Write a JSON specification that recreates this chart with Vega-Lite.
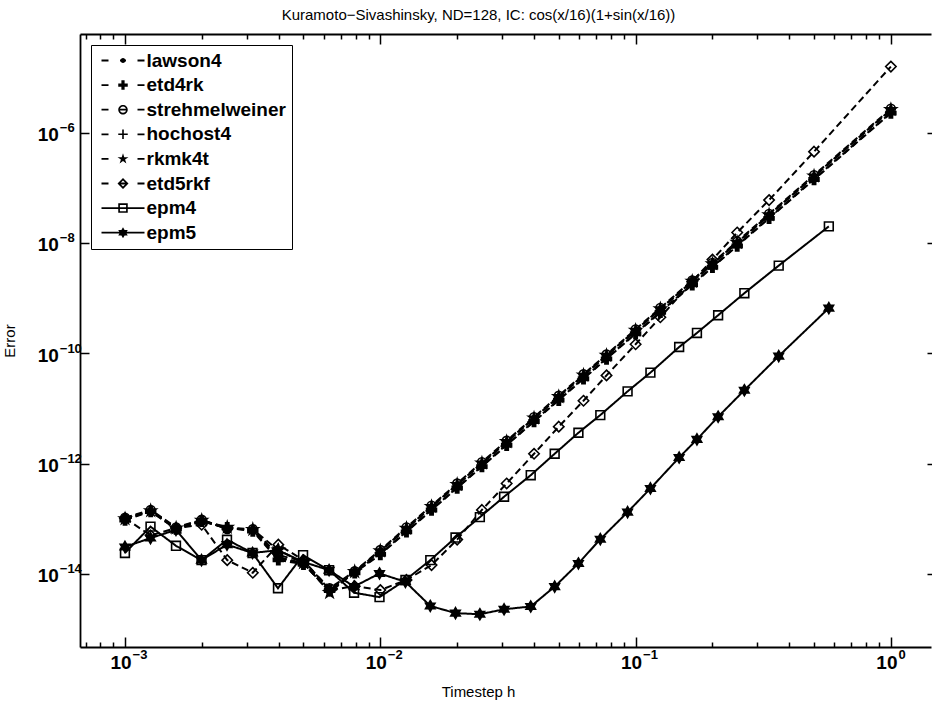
{
"$schema":"https://vega.github.io/schema/vega-lite/v6.json",
"width":851,"height":613,
"autosize":{"type":"none"},
"padding":{"left":80,"top":34,"right":1,"bottom":58},
"background":"white",
"title":{"text":"Kuramoto−Sivashinsky, ND=128, IC: cos(x/16)(1+sin(x/16))","font":"Liberation Sans","fontSize":15,"fontWeight":"normal","color":"black","anchor":"middle","dx":-27,"offset":10},
"config":{"view":{"stroke":null}},
"data":{"values":[
{"m":"lawson4","h":0.001,"e":1.02e-13},{"m":"lawson4","h":0.00126,"e":1.41e-13},{"m":"lawson4","h":0.001585,"e":6.76e-14},{"m":"lawson4","h":0.001996,"e":9.33e-14},{"m":"lawson4","h":0.002513,"e":6.76e-14},{"m":"lawson4","h":0.003165,"e":6.31e-14},{"m":"lawson4","h":0.003984,"e":2.0e-14},{"m":"lawson4","h":0.005,"e":1.585e-14},{"m":"lawson4","h":0.006329,"e":5.13e-15},{"m":"lawson4","h":0.007937,"e":1.1e-14},{"m":"lawson4","h":0.01,"e":2.57e-14},{"m":"lawson4","h":0.01266,"e":6.58e-14},{"m":"lawson4","h":0.01587,"e":1.637e-13},{"m":"lawson4","h":0.02,"e":4.11e-13},{"m":"lawson4","h":0.025,"e":1.005e-12},{"m":"lawson4","h":0.03125,"e":2.455e-12},{"m":"lawson4","h":0.04,"e":6.58e-12},{"m":"lawson4","h":0.05,"e":1.607e-11},{"m":"lawson4","h":0.0625,"e":3.93e-11},{"m":"lawson4","h":0.07692,"e":8.99e-11},{"m":"lawson4","h":0.1,"e":2.57e-10},{"m":"lawson4","h":0.125,"e":6.28e-10},{"m":"lawson4","h":0.1667,"e":1.986e-9},{"m":"lawson4","h":0.2,"e":4.11e-9},{"m":"lawson4","h":0.25,"e":1.005e-8},{"m":"lawson4","h":0.3333,"e":3.177e-8},{"m":"lawson4","h":0.5,"e":1.607e-7},{"m":"lawson4","h":1,"e":2.57e-6},
{"m":"etd4rk","h":0.001,"e":9.5e-14},{"m":"etd4rk","h":0.00126,"e":1.35e-13},{"m":"etd4rk","h":0.001585,"e":6.5e-14},{"m":"etd4rk","h":0.001996,"e":9.0e-14},{"m":"etd4rk","h":0.002513,"e":6.9e-14},{"m":"etd4rk","h":0.003165,"e":6.0e-14},{"m":"etd4rk","h":0.003984,"e":1.8e-14},{"m":"etd4rk","h":0.005,"e":1.5e-14},{"m":"etd4rk","h":0.006329,"e":5.0e-15},{"m":"etd4rk","h":0.007937,"e":1.05e-14},{"m":"etd4rk","h":0.01,"e":2.26e-14},{"m":"etd4rk","h":0.01266,"e":5.79e-14},{"m":"etd4rk","h":0.01587,"e":1.44e-13},{"m":"etd4rk","h":0.02,"e":3.62e-13},{"m":"etd4rk","h":0.025,"e":8.84e-13},{"m":"etd4rk","h":0.03125,"e":2.16e-12},{"m":"etd4rk","h":0.04,"e":5.79e-12},{"m":"etd4rk","h":0.05,"e":1.414e-11},{"m":"etd4rk","h":0.0625,"e":3.46e-11},{"m":"etd4rk","h":0.07692,"e":7.91e-11},{"m":"etd4rk","h":0.1,"e":2.26e-10},{"m":"etd4rk","h":0.125,"e":5.53e-10},{"m":"etd4rk","h":0.1667,"e":1.748e-9},{"m":"etd4rk","h":0.2,"e":3.62e-9},{"m":"etd4rk","h":0.25,"e":8.84e-9},{"m":"etd4rk","h":0.3333,"e":2.8e-8},{"m":"etd4rk","h":0.5,"e":1.414e-7},{"m":"etd4rk","h":1,"e":2.26e-6},
{"m":"strehmelweiner","h":0.001,"e":1.05e-13},{"m":"strehmelweiner","h":0.00126,"e":1.45e-13},{"m":"strehmelweiner","h":0.001585,"e":7.0e-14},{"m":"strehmelweiner","h":0.001996,"e":9.6e-14},{"m":"strehmelweiner","h":0.002513,"e":6.5e-14},{"m":"strehmelweiner","h":0.003165,"e":6.5e-14},{"m":"strehmelweiner","h":0.003984,"e":2.2e-14},{"m":"strehmelweiner","h":0.005,"e":1.7e-14},{"m":"strehmelweiner","h":0.006329,"e":5.5e-15},{"m":"strehmelweiner","h":0.007937,"e":1.12e-14},{"m":"strehmelweiner","h":0.01,"e":2.72e-14},{"m":"strehmelweiner","h":0.01266,"e":6.97e-14},{"m":"strehmelweiner","h":0.01587,"e":1.735e-13},{"m":"strehmelweiner","h":0.02,"e":4.36e-13},{"m":"strehmelweiner","h":0.025,"e":1.065e-12},{"m":"strehmelweiner","h":0.03125,"e":2.6e-12},{"m":"strehmelweiner","h":0.04,"e":6.97e-12},{"m":"strehmelweiner","h":0.05,"e":1.703e-11},{"m":"strehmelweiner","h":0.0625,"e":4.17e-11},{"m":"strehmelweiner","h":0.07692,"e":9.53e-11},{"m":"strehmelweiner","h":0.1,"e":2.72e-10},{"m":"strehmelweiner","h":0.125,"e":6.66e-10},{"m":"strehmelweiner","h":0.1667,"e":2.105e-9},{"m":"strehmelweiner","h":0.2,"e":4.36e-9},{"m":"strehmelweiner","h":0.25,"e":1.065e-8},{"m":"strehmelweiner","h":0.3333,"e":3.37e-8},{"m":"strehmelweiner","h":0.5,"e":1.703e-7},{"m":"strehmelweiner","h":1,"e":2.72e-6},
{"m":"hochost4","h":0.001,"e":9.8e-14},{"m":"hochost4","h":0.00126,"e":1.38e-13},{"m":"hochost4","h":0.001585,"e":6.6e-14},{"m":"hochost4","h":0.001996,"e":9.1e-14},{"m":"hochost4","h":0.002513,"e":6.7e-14},{"m":"hochost4","h":0.003165,"e":6.2e-14},{"m":"hochost4","h":0.003984,"e":1.9e-14},{"m":"hochost4","h":0.005,"e":1.55e-14},{"m":"hochost4","h":0.006329,"e":4.8e-15},{"m":"hochost4","h":0.007937,"e":1.08e-14},{"m":"hochost4","h":0.01,"e":2.31e-14},{"m":"hochost4","h":0.01266,"e":5.92e-14},{"m":"hochost4","h":0.01587,"e":1.47e-13},{"m":"hochost4","h":0.02,"e":3.7e-13},{"m":"hochost4","h":0.025,"e":9.05e-13},{"m":"hochost4","h":0.03125,"e":2.21e-12},{"m":"hochost4","h":0.04,"e":5.92e-12},{"m":"hochost4","h":0.05,"e":1.446e-11},{"m":"hochost4","h":0.0625,"e":3.54e-11},{"m":"hochost4","h":0.07692,"e":8.09e-11},{"m":"hochost4","h":0.1,"e":2.31e-10},{"m":"hochost4","h":0.125,"e":5.65e-10},{"m":"hochost4","h":0.1667,"e":1.787e-9},{"m":"hochost4","h":0.2,"e":3.7e-9},{"m":"hochost4","h":0.25,"e":9.05e-9},{"m":"hochost4","h":0.3333,"e":2.86e-8},{"m":"hochost4","h":0.5,"e":1.446e-7},{"m":"hochost4","h":1,"e":2.31e-6},
{"m":"rkmk4t","h":0.001,"e":1.0e-13},{"m":"rkmk4t","h":0.00126,"e":1.4e-13},{"m":"rkmk4t","h":0.001585,"e":6.8e-14},{"m":"rkmk4t","h":0.001996,"e":9.4e-14},{"m":"rkmk4t","h":0.002513,"e":7.0e-14},{"m":"rkmk4t","h":0.003165,"e":6.4e-14},{"m":"rkmk4t","h":0.003984,"e":2.7e-14},{"m":"rkmk4t","h":0.005,"e":1.6e-14},{"m":"rkmk4t","h":0.006329,"e":4.6e-15},{"m":"rkmk4t","h":0.007937,"e":1.1e-14},{"m":"rkmk4t","h":0.01,"e":2.62e-14},{"m":"rkmk4t","h":0.01266,"e":6.71e-14},{"m":"rkmk4t","h":0.01587,"e":1.67e-13},{"m":"rkmk4t","h":0.02,"e":4.19e-13},{"m":"rkmk4t","h":0.025,"e":1.025e-12},{"m":"rkmk4t","h":0.03125,"e":2.5e-12},{"m":"rkmk4t","h":0.04,"e":6.71e-12},{"m":"rkmk4t","h":0.05,"e":1.639e-11},{"m":"rkmk4t","h":0.0625,"e":4.01e-11},{"m":"rkmk4t","h":0.07692,"e":9.17e-11},{"m":"rkmk4t","h":0.1,"e":2.62e-10},{"m":"rkmk4t","h":0.125,"e":6.41e-10},{"m":"rkmk4t","h":0.1667,"e":2.026e-9},{"m":"rkmk4t","h":0.2,"e":4.19e-9},{"m":"rkmk4t","h":0.25,"e":1.025e-8},{"m":"rkmk4t","h":0.3333,"e":3.24e-8},{"m":"rkmk4t","h":0.5,"e":1.639e-7},{"m":"rkmk4t","h":1,"e":2.62e-6},
{"m":"etd5rkf","h":0.001,"e":1.02e-13},{"m":"etd5rkf","h":0.00126,"e":5.0e-14},{"m":"etd5rkf","h":0.001585,"e":6.8e-14},{"m":"etd5rkf","h":0.001996,"e":7.8e-14},{"m":"etd5rkf","h":0.002513,"e":1.78e-14},{"m":"etd5rkf","h":0.003165,"e":1.05e-14},{"m":"etd5rkf","h":0.003984,"e":3.4e-14},{"m":"etd5rkf","h":0.005,"e":1.78e-14},{"m":"etd5rkf","h":0.006329,"e":5.1e-15},{"m":"etd5rkf","h":0.007937,"e":6.0e-15},{"m":"etd5rkf","h":0.01,"e":5.1e-15},{"m":"etd5rkf","h":0.01266,"e":7.8e-15},{"m":"etd5rkf","h":0.01587,"e":1.45e-14},{"m":"etd5rkf","h":0.02,"e":4.2e-14},{"m":"etd5rkf","h":0.025,"e":1.45e-13},{"m":"etd5rkf","h":0.03125,"e":4.37e-13},{"m":"etd5rkf","h":0.04,"e":1.51e-12},{"m":"etd5rkf","h":0.05,"e":4.68e-12},{"m":"etd5rkf","h":0.0625,"e":1.38e-11},{"m":"etd5rkf","h":0.07692,"e":3.98e-11},{"m":"etd5rkf","h":0.1,"e":1.46e-10},{"m":"etd5rkf","h":0.125,"e":4.5e-10},{"m":"etd5rkf","h":0.1667,"e":2.0e-9},{"m":"etd5rkf","h":0.2,"e":5.0e-9},{"m":"etd5rkf","h":0.25,"e":1.55e-8},{"m":"etd5rkf","h":0.3333,"e":6.0e-8},{"m":"etd5rkf","h":0.5,"e":4.53e-7},{"m":"etd5rkf","h":1,"e":1.58e-5},
{"m":"epm4","h":0.000999,"e":2.4e-14},{"m":"epm4","h":0.001258,"e":7.2e-14},{"m":"epm4","h":0.001583,"e":3.24e-14},{"m":"epm4","h":0.001993,"e":1.78e-14},{"m":"epm4","h":0.002508,"e":4.17e-14},{"m":"epm4","h":0.003157,"e":2.4e-14},{"m":"epm4","h":0.003972,"e":5.5e-15},{"m":"epm4","h":0.004981,"e":2.19e-14},{"m":"epm4","h":0.006299,"e":1.17e-14},{"m":"epm4","h":0.00789,"e":4.57e-15},{"m":"epm4","h":0.009926,"e":3.8e-15},{"m":"epm4","h":0.01254,"e":7.76e-15},{"m":"epm4","h":0.01569,"e":1.78e-14},{"m":"epm4","h":0.0197,"e":4.57e-14},{"m":"epm4","h":0.02454,"e":1.07e-13},{"m":"epm4","h":0.03053,"e":2.51e-13},{"m":"epm4","h":0.03883,"e":6.17e-13},{"m":"epm4","h":0.04819,"e":1.51e-12},{"m":"epm4","h":0.0597,"e":3.63e-12},{"m":"epm4","h":0.07273,"e":7.59e-12},{"m":"epm4","h":0.09302,"e":2.04e-11},{"m":"epm4","h":0.1143,"e":4.47e-11},{"m":"epm4","h":0.1481,"e":1.3e-10},{"m":"epm4","h":0.1739,"e":2.34e-10},{"m":"epm4","h":0.2105,"e":4.9e-10},{"m":"epm4","h":0.2667,"e":1.23e-9},{"m":"epm4","h":0.3636,"e":3.89e-9},{"m":"epm4","h":0.5714,"e":2.0e-8},
{"m":"epm5","h":0.000999,"e":3.09e-14},{"m":"epm5","h":0.001258,"e":4.47e-14},{"m":"epm5","h":0.001583,"e":6.3e-14},{"m":"epm5","h":0.001993,"e":1.78e-14},{"m":"epm5","h":0.002508,"e":3.4e-14},{"m":"epm5","h":0.003157,"e":2.4e-14},{"m":"epm5","h":0.003972,"e":2.7e-14},{"m":"epm5","h":0.004981,"e":1.66e-14},{"m":"epm5","h":0.006299,"e":1.17e-14},{"m":"epm5","h":0.00789,"e":5.9e-15},{"m":"epm5","h":0.009926,"e":1.02e-14},{"m":"epm5","h":0.01254,"e":7.2e-15},{"m":"epm5","h":0.01569,"e":2.63e-15},{"m":"epm5","h":0.0197,"e":1.95e-15},{"m":"epm5","h":0.02454,"e":1.86e-15},{"m":"epm5","h":0.03053,"e":2.29e-15},{"m":"epm5","h":0.03883,"e":2.57e-15},{"m":"epm5","h":0.04819,"e":5.9e-15},{"m":"epm5","h":0.0597,"e":1.55e-14},{"m":"epm5","h":0.07273,"e":4.27e-14},{"m":"epm5","h":0.09302,"e":1.32e-13},{"m":"epm5","h":0.1143,"e":3.55e-13},{"m":"epm5","h":0.1481,"e":1.29e-12},{"m":"epm5","h":0.1739,"e":2.75e-12},{"m":"epm5","h":0.2105,"e":7.08e-12},{"m":"epm5","h":0.2667,"e":2.14e-11},{"m":"epm5","h":0.3636,"e":8.9e-11},{"m":"epm5","h":0.5714,"e":6.6e-10}
]},
"layer":[
{"mark":{"type":"line","strokeWidth":2,"color":"black","clip":true},
 "encoding":{
  "x":{"field":"h","type":"quantitative","scale":{"type":"log","domain":[0.000666,1.436],"nice":false},
   "axis":{"orient":"bottom","values":[0.0007,0.0008,0.0009,0.001,0.002,0.003,0.004,0.005,0.006,0.007,0.008,0.009,0.01,0.02,0.03,0.04,0.05,0.06,0.07,0.08,0.09,0.1,0.2,0.3,0.4,0.5,0.6,0.7,0.8,0.9,1],
    "labelExpr":"abs(log(datum.value)/LN10 - round(log(datum.value)/LN10)) < 0.001 ? '10' : ''",
    "tickSize":{"condition":{"test":"abs(log(datum.value)/LN10 - round(log(datum.value)/LN10)) < 0.001","value":-10},"value":-5},
    "tickColor":"black","tickWidth":1.5,"domain":true,"domainColor":"black","domainWidth":1.8,"grid":false,
    "labelFont":"Liberation Sans","labelFontWeight":"bold","labelFontSize":19,"labelColor":"black","labelPadding":16.6,"labelOffset":-4.5,"labelAlign":"center","labelBaseline":"top","labelFlush":false,"labelOverlap":false,"labelBound":false,
    "title":"Timestep h","titleFont":"Liberation Sans","titleFontWeight":"normal","titleFontSize":15,"titleColor":"black","titleX":398,"titleY":49,"titleBaseline":"alphabetic","titleAlign":"center"}},
  "y":{"field":"e","type":"quantitative","scale":{"type":"log","domain":[4.74e-16,6.15e-5],"nice":false},
   "axis":{"orient":"left","values":[1e-14,1e-12,1e-10,1e-8,1e-6],"labelExpr":"'10'","tickSize":-9,"tickColor":"black","tickWidth":1.5,"domain":true,"domainColor":"black","domainWidth":1.8,"grid":false,
    "labelFont":"Liberation Sans","labelFontWeight":"bold","labelFontSize":19,"labelColor":"black","labelPadding":30.7,"labelOffset":2,"labelAlign":"right","labelBaseline":"middle","labelFlush":false,"labelOverlap":false,"labelBound":false,
    "title":"Error","titleFont":"Liberation Sans","titleFontWeight":"normal","titleFontSize":15,"titleColor":"black","titleX":-66,"titleY":306.5,"titleAngle":-90,"titleBaseline":"alphabetic","titleAlign":"center"}},
  "strokeDash":{"field":"m","type":"nominal","scale":{"domain":["lawson4","etd4rk","strehmelweiner","hochost4","rkmk4t","etd5rkf","epm4","epm5"],"range":[[7,4],[7,4],[7,4],[7,4],[7,4],[7,4],[1,0],[1,0]]},"legend":null}
 }},
{"mark":{"type":"point","filled":true,"size":120,"stroke":"black","strokeWidth":1.6,"opacity":1,"clip":true},
 "encoding":{
  "x":{"field":"h","type":"quantitative","scale":{"type":"log","domain":[0.000666,1.436],"nice":false},
   "axis":{"orient":"top","values":[0.0007,0.0008,0.0009,0.001,0.002,0.003,0.004,0.005,0.006,0.007,0.008,0.009,0.01,0.02,0.03,0.04,0.05,0.06,0.07,0.08,0.09,0.1,0.2,0.3,0.4,0.5,0.6,0.7,0.8,0.9,1],
    "labels":false,"tickSize":{"condition":{"test":"abs(log(datum.value)/LN10 - round(log(datum.value)/LN10)) < 0.001","value":-10},"value":-5},
    "tickColor":"black","tickWidth":1.5,"domain":true,"domainColor":"black","domainWidth":1.8,"grid":false,"title":null}},
  "y":{"field":"e","type":"quantitative","scale":{"type":"log","domain":[4.74e-16,6.15e-5],"nice":false},
   "axis":{"orient":"right","values":[1e-14,1e-12,1e-10,1e-8,1e-6],"labels":false,"tickSize":-9,"tickColor":"black","tickWidth":1.5,"domain":false,"offset":5,"grid":false,"title":null}},
  "shape":{"field":"m","type":"nominal","scale":{"domain":["lawson4","etd4rk","strehmelweiner","hochost4","rkmk4t","etd5rkf","epm4","epm5"],
    "range":["M0.45,0A0.45,0.45 0 1,1 -0.45,0A0.45,0.45 0 1,1 0.45,0Z","M-0.3,-0.9L0.3,-0.9L0.3,-0.3L0.9,-0.3L0.9,0.3L0.3,0.3L0.3,0.9L-0.3,0.9L-0.3,0.3L-0.9,0.3L-0.9,-0.3L-0.3,-0.3Z","M0.8,0A0.8,0.8 0 1,1 -0.8,0A0.8,0.8 0 1,1 0.8,0Z","M-0.9,0L0.9,0M0,-0.9L0,0.9","M0,-1.05L0.234,-0.322L0.999,-0.324L0.379,0.123L0.617,0.849L0,0.399L-0.617,0.849L-0.379,0.123L-0.999,-0.324L-0.234,-0.322Z","M0,-0.95L0.95,0L0,0.95L-0.95,0Z","M-0.8,-0.8L0.8,-0.8L0.8,0.8L-0.8,0.8Z","M0,-1L0.289,-0.5L0.866,-0.5L0.577,0L0.866,0.5L0.289,0.5L0,1L-0.289,0.5L-0.866,0.5L-0.577,0L-0.866,-0.5L-0.289,-0.5Z"]},
   "legend":null},
  "fill":{"field":"m","type":"nominal","scale":{"domain":["lawson4","etd4rk","strehmelweiner","hochost4","rkmk4t","etd5rkf","epm4","epm5"],"range":["black","black","transparent","transparent","black","transparent","transparent","black"]},"legend":null}
 }},
{"mark":{"type":"point","opacity":0},
 "encoding":{
  "x":{"field":"h","type":"quantitative","scale":{"type":"log","domain":[0.000666,1.436],"nice":false},
   "axis":{"orient":"bottom","values":[0.001,0.01,0.1,1],"labelExpr":"(round(log(datum.value)/LN10) < 0 ? '−' : '') + abs(round(log(datum.value)/LN10))","ticks":true,"tickSize":0,"tickOpacity":0,"domain":false,"grid":false,
    "labelFont":"Liberation Sans","labelFontWeight":"bold","labelFontSize":13,"labelColor":"black","labelPadding":1,"labelOffset":7,"labelAlign":"left","labelBaseline":"top","labelFlush":false,"labelOverlap":false,"labelBound":false,"title":null}},
  "y":{"field":"e","type":"quantitative","scale":{"type":"log","domain":[4.74e-16,6.15e-5],"nice":false},
   "axis":{"orient":"left","values":[1e-14,1e-12,1e-10,1e-8,1e-6],"labelExpr":"(round(log(datum.value)/LN10) < 0 ? '−' : '') + abs(round(log(datum.value)/LN10))","ticks":true,"tickSize":0,"tickOpacity":0,"domain":false,"grid":false,
    "labelFont":"Liberation Sans","labelFontWeight":"bold","labelFontSize":13,"labelColor":"black","labelPadding":20.7,"labelOffset":-5,"labelAlign":"left","labelBaseline":"middle","labelFlush":false,"labelOverlap":false,"labelBound":false,"title":null}}
 }},
{"transform":[{"filter":"false"}],
 "mark":{"type":"point","filled":true,"color":"black","size":100,"opacity":1},
 "encoding":{
  "x":{"field":"h","type":"quantitative","scale":{"type":"log","domain":[0.000666,1.436],"nice":false},"axis":null},
  "y":{"field":"e","type":"quantitative","scale":{"type":"log","domain":[4.74e-16,6.15e-5],"nice":false},"axis":null},
  "shape":{"field":"m","type":"nominal","scale":{"domain":["lawson4","etd4rk","strehmelweiner","hochost4","rkmk4t","etd5rkf","epm4","epm5"],
    "range":[
"M-4.3,-0.18L-2.9,-0.18L-2.9,0.18L-4.3,0.18ZM2.9,-0.18L4.3,-0.18L4.3,0.18L2.9,0.18ZM-0.6,-0.18L0.6,-0.18L0.6,0.18L-0.6,0.18ZM0.5,0A0.5,0.5 0 1,1 -0.5,0A0.5,0.5 0 1,1 0.5,0Z",
"M-4.3,-0.18L-2.9,-0.18L-2.9,0.18L-4.3,0.18ZM2.9,-0.18L4.3,-0.18L4.3,0.18L2.9,0.18ZM-0.32,-0.95L0.32,-0.95L0.32,-0.32L0.95,-0.32L0.95,0.32L0.32,0.32L0.32,0.95L-0.32,0.95L-0.32,0.32L-0.95,0.32L-0.95,-0.32L-0.32,-0.32Z",
"M-4.3,-0.18L-2.9,-0.18L-2.9,0.18L-4.3,0.18ZM2.9,-0.18L4.3,-0.18L4.3,0.18L2.9,0.18ZM-0.6,-0.18L0.6,-0.18L0.6,0.18L-0.6,0.18ZM0.95,0A0.95,0.95 0 1,1 -0.95,0A0.95,0.95 0 1,1 0.95,0ZM0.62,0A0.62,0.62 0 1,0 -0.62,0A0.62,0.62 0 1,0 0.62,0Z",
"M-4.3,-0.18L-2.9,-0.18L-2.9,0.18L-4.3,0.18ZM2.9,-0.18L4.3,-0.18L4.3,0.18L2.9,0.18ZM-0.16,-0.95L0.16,-0.95L0.16,-0.16L0.95,-0.16L0.95,0.16L0.16,0.16L0.16,0.95L-0.16,0.95L-0.16,0.16L-0.95,0.16L-0.95,-0.16L-0.16,-0.16Z",
"M-4.3,-0.18L-2.9,-0.18L-2.9,0.18L-4.3,0.18ZM2.9,-0.18L4.3,-0.18L4.3,0.18L2.9,0.18ZM0,-1.15L0.256,-0.353L1.094,-0.355L0.415,0.135L0.676,0.93L0,0.437L-0.676,0.93L-0.415,0.135L-1.094,-0.355L-0.256,-0.353Z",
"M-4.3,-0.18L-2.9,-0.18L-2.9,0.18L-4.3,0.18ZM2.9,-0.18L4.3,-0.18L4.3,0.18L2.9,0.18ZM-0.6,-0.18L0.6,-0.18L0.6,0.18L-0.6,0.18ZM0,-1.1L1.1,0L0,1.1L-1.1,0ZM0,-0.62L-0.62,0L0,0.62L0.62,0Z",
"M-4.3,-0.18L4.3,-0.18L4.3,0.18L-4.3,0.18ZM-0.95,-0.95L0.95,-0.95L0.95,0.95L-0.95,0.95ZM-0.62,-0.62L-0.62,0.62L0.62,0.62L0.62,-0.62Z",
"M-4.3,-0.18L4.3,-0.18L4.3,0.18L-4.3,0.18ZM0,-1.1L0.318,-0.55L0.953,-0.55L0.635,0L0.953,0.55L0.318,0.55L0,1.1L-0.318,0.55L-0.953,0.55L-0.635,0L-0.953,-0.55L-0.318,-0.55Z"]},
   "legend":{"orient":"top-left","offset":11,"title":null,"padding":6,"strokeColor":"black","fillColor":"white","symbolSize":100,"symbolOffset":16.5,"labelOffset":14,"rowPadding":4.6,"labelFont":"Liberation Sans","labelFontWeight":"bold","labelFontSize":19,"labelColor":"black","labelLimit":400,"symbolFillColor":"black","symbolStrokeWidth":0}}
 }}
],
"resolve":{"axis":{"x":"independent","y":"independent"},"scale":{"shape":"independent"}}
}
